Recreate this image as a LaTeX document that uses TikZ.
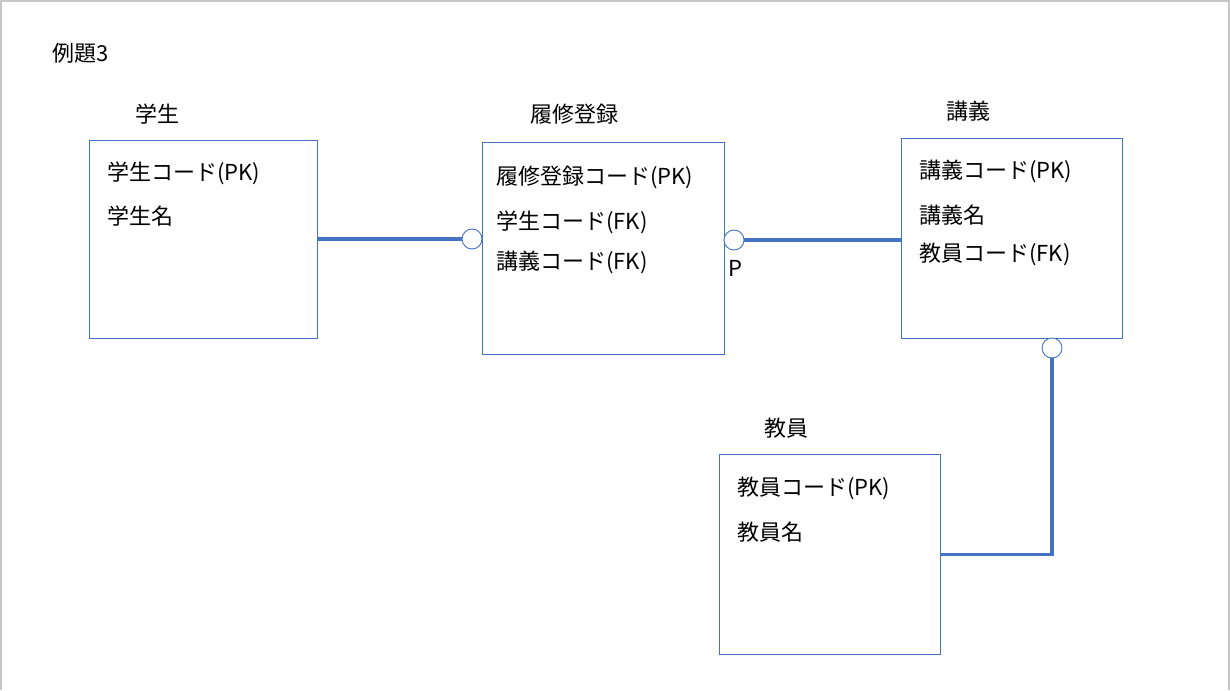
\documentclass[tikz,border=0pt]{standalone}
\usepackage{fontspec}
\setmainfont{Noto Sans CJK JP}
\usetikzlibrary{positioning}
\definecolor{linkblue}{HTML}{4472C4}
\begin{document}
\begin{tikzpicture}[
        x=1pt, y=-1pt,
        every node/.style={inner sep=0pt, font=\fontsize{22}{26}\selectfont},
        entity/.style={draw=linkblue, line width=0.9pt, anchor=north west},
        attr/.style={anchor=west},
        optional/.style={circle, draw=linkblue, fill=white, line width=0.9pt, minimum size=20pt},
        link/.style={draw=linkblue, line width=3.5pt},
    ]
    \useasboundingbox (0,0) rectangle (1230,690);
    \draw[black!22, line width=1.5pt] (1,690) -- (1,1) -- (1229,1) -- (1229,690);
    \node[attr] (title) at (52,53) {例題3};
    % entities
    \node[entity, minimum width=228pt, minimum height=198pt] (gakusei) at (89,140) {};
    \node[entity, minimum width=242pt, minimum height=212pt] (rishu) at (482,142) {};
    \node[entity, minimum width=221pt, minimum height=200pt] (kogi) at (901,138) {};
    \node[entity, minimum width=221pt, minimum height=200pt] (kyoin) at (719,454) {};
    % entity names
    \node[attr] (gakuseiname) at (135,114) {学生};
    \node[attr] (rishuname) at (530,114) {履修登録};
    \node[attr] (koginame) at (946,111) {講義};
    \node[attr] (kyoinname) at (764,428) {教員};
    % attributes
    \node[attr] (gakusei1) at (107,173) {学生コード(PK)};
    \node[attr] (gakusei2) at (107,216) {学生名};
    \node[attr] (rishu1) at (496,177) {履修登録コード(PK)};
    \node[attr] (rishu2) at (496,222) {学生コード(FK)};
    \node[attr] (rishu3) at (496,262) {講義コード(FK)};
    \node[attr] (kogi1) at (919,171) {講義コード(PK)};
    \node[attr] (kogi2) at (919,215) {講義名};
    \node[attr] (kogi3) at (919,254) {教員コード(FK)};
    \node[attr] (kyoin1) at (737,488) {教員コード(PK)};
    \node[attr] (kyoin2) at (737,532) {教員名};
    % relations
    \node[optional] (opt1) at (472,239) {};
    \node[optional] (opt2) at (734,240) {};
    \node[optional] (opt3) at (1052,348) {};
    \node[attr] (plabel) at (728,268) {P};
    \draw[link] (gakusei.east |- opt1) -- (opt1.west);
    \draw[link] (opt2.east) -- (kogi.west |- opt2);
    \draw[link] (opt3.south) -- (opt3.south |- kyoin.east) -- (kyoin.east);
    \end{tikzpicture}
\end{document}
